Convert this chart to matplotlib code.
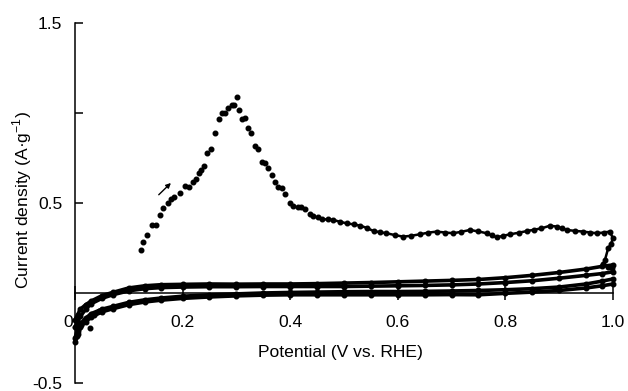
import matplotlib
matplotlib.use("Agg")
import matplotlib.pyplot as plt
from matplotlib.transforms import ScaledTranslation

plt.rcParams['font.family'] = ['Liberation Sans', 'DejaVu Sans']
plt.rcParams['mathtext.fontset'] = 'custom'
plt.rcParams['mathtext.rm'] = 'Liberation Sans'

# anodic scan, peak region (dots)
scan_x = [0.122, 0.127, 0.133, 0.144, 0.150, 0.158, 0.164, 0.172, 0.178, 0.184, 0.195, 0.204, 0.211,
          0.219, 0.225, 0.231, 0.234, 0.240, 0.246, 0.252, 0.260, 0.268, 0.273, 0.279, 0.285, 0.291,
          0.296, 0.302, 0.304, 0.310, 0.316, 0.322, 0.328, 0.335, 0.341, 0.347, 0.354, 0.359, 0.366,
          0.372, 0.378, 0.384, 0.390, 0.400, 0.406, 0.415, 0.421, 0.428, 0.437, 0.443, 0.452]
scan_y = [0.239, 0.282, 0.322, 0.376, 0.376, 0.433, 0.471, 0.498, 0.522, 0.535, 0.554, 0.594, 0.591,
          0.618, 0.632, 0.665, 0.683, 0.706, 0.776, 0.798, 0.887, 0.965, 0.998, 0.998, 1.026, 1.044,
          1.044, 1.091, 1.017, 0.965, 0.971, 0.915, 0.891, 0.817, 0.798, 0.729, 0.724, 0.693, 0.656,
          0.618, 0.587, 0.582, 0.550, 0.502, 0.483, 0.476, 0.479, 0.465, 0.439, 0.429, 0.424]

# anodic scan, flat tail up to 1.0 V and turn back
tail_x = [0.459, 0.470, 0.480, 0.492, 0.505, 0.518, 0.530, 0.542, 0.555, 0.567, 0.579, 0.594, 0.610,
          0.625, 0.641, 0.656, 0.672, 0.688, 0.703, 0.718, 0.734, 0.750, 0.765, 0.775, 0.784, 0.796,
          0.809, 0.825, 0.840, 0.854, 0.867, 0.883, 0.895, 0.905, 0.914, 0.930, 0.945, 0.958, 0.970,
          0.983, 0.994, 1.000, 0.996, 0.991, 0.985, 0.982, 0.990, 0.998]
tail_y = [0.409, 0.409, 0.406, 0.396, 0.387, 0.381, 0.374, 0.362, 0.344, 0.338, 0.332, 0.322, 0.313,
          0.318, 0.326, 0.335, 0.341, 0.336, 0.332, 0.340, 0.350, 0.342, 0.332, 0.320, 0.309, 0.318,
          0.326, 0.335, 0.344, 0.352, 0.359, 0.374, 0.369, 0.360, 0.350, 0.345, 0.341, 0.336, 0.332,
          0.336, 0.341, 0.304, 0.271, 0.248, 0.183, 0.160, 0.145, 0.137]

# background cycles (two upper and two lower traces)
band_x = [0.0, 0.005, 0.01, 0.02, 0.03, 0.05, 0.07, 0.10, 0.13, 0.16, 0.20, 0.25, 0.30, 0.35, 0.40,
          0.45, 0.50, 0.55, 0.60, 0.65, 0.70, 0.75, 0.80, 0.85, 0.90, 0.95, 0.98, 1.0]
upper_a = [-0.15, -0.12, -0.09, -0.065, -0.045, -0.015, 0.003, 0.028, 0.040, 0.046, 0.048, 0.050, 0.049,
           0.050, 0.050, 0.052, 0.055, 0.058, 0.062, 0.066, 0.070, 0.075, 0.085, 0.098, 0.114, 0.133,
           0.148, 0.156]
upper_b = [-0.19, -0.16, -0.13, -0.09, -0.06, -0.03, -0.01, 0.012, 0.024, 0.030, 0.033, 0.035, 0.035,
           0.036, 0.036, 0.036, 0.036, 0.038, 0.040, 0.042, 0.045, 0.050, 0.058, 0.068, 0.082, 0.098,
           0.108, 0.118]
lower_a = [-0.25, -0.20, -0.17, -0.14, -0.115, -0.09, -0.075, -0.052, -0.038, -0.028, -0.018, -0.010,
           -0.005, 0.000, 0.003, 0.005, 0.007, 0.008, 0.008, 0.009, 0.011, 0.014, 0.018, 0.024, 0.033,
           0.050, 0.066, 0.078]
lower_b = [-0.27, -0.23, -0.19, -0.16, -0.135, -0.105, -0.088, -0.065, -0.050, -0.040, -0.030, -0.022,
           -0.016, -0.012, -0.010, -0.010, -0.010, -0.010, -0.010, -0.010, -0.009, -0.010, -0.002, 0.005,
           0.014, 0.028, 0.040, 0.050]

# loose dots near 0 V
loose_x = [0.005, 0.012, 0.019, 0.028, 0.035, 0.045, 0.003]
loose_y = [-0.21, -0.18, -0.15, -0.195, -0.12, -0.10, -0.24]

fig = plt.figure(figsize=(6.28, 3.91), dpi=100)
ax = fig.add_axes([0.1194, 0.0205, 0.8567, 0.9207])

for yb in [upper_a, upper_b, lower_a, lower_b]:
    ax.plot(band_x, yb, '-', color='black', lw=2.6, clip_on=False)
    ax.plot(band_x, yb, 'o', color='black', ms=3.3, clip_on=False)
ax.plot(loose_x, loose_y, 'o', color='black', ms=3.3, clip_on=False)
ax.plot(scan_x, scan_y, 'o', color='black', ms=3.3, clip_on=False)
ax.plot(tail_x, tail_y, 'o-', color='black', ms=3.3, lw=1.8, clip_on=False)

ax.annotate('', xy=(0.182, 0.622), xytext=(0.152, 0.535),
            arrowprops=dict(arrowstyle='-|>', color='black', lw=1.0, mutation_scale=7))

ax.set_xlim(0, 1.0)
ax.set_ylim(-0.5, 1.5)
ax.spines['top'].set_visible(False)
ax.spines['right'].set_visible(False)
ax.spines['bottom'].set_position(('data', 0))
ax.spines['left'].set_linewidth(1.1)
ax.spines['bottom'].set_linewidth(1.1)

ax.set_yticks([-0.5, 0.5, 1.5])
ax.set_yticklabels(['-0.5', '0.5', '1.5'])
ax.set_yticks([1.0], minor=True)
ax.tick_params(axis='y', which='both', direction='in', length=6, width=1.1, pad=9, labelsize=12.6)

ax.set_xticks([0, 0.2, 0.4, 0.6, 0.8, 1.0])
ax.set_xticklabels(['0', '0.2', '0.4', '0.6', '0.8', '1.0'])
ax.tick_params(axis='x', direction='inout', length=10, width=1.1, pad=11, labelsize=12.6)
zero_lbl = ax.get_xticklabels()[0]
zero_lbl.set_transform(zero_lbl.get_transform() + ScaledTranslation(-7 / 100, 0, fig.dpi_scale_trans))

fig.text(340 / 628, 1 - 352 / 391, 'Potential (V vs. RHE)', ha='center', va='center', fontsize=12.6)
fig.text(22 / 628, 1 - 200 / 391, r'Current density (A·g$^{\mathregular{-1}}$)', ha='center', va='center',
         rotation=90, fontsize=12.6)

fig.savefig('out.png', dpi=100, facecolor='white')
